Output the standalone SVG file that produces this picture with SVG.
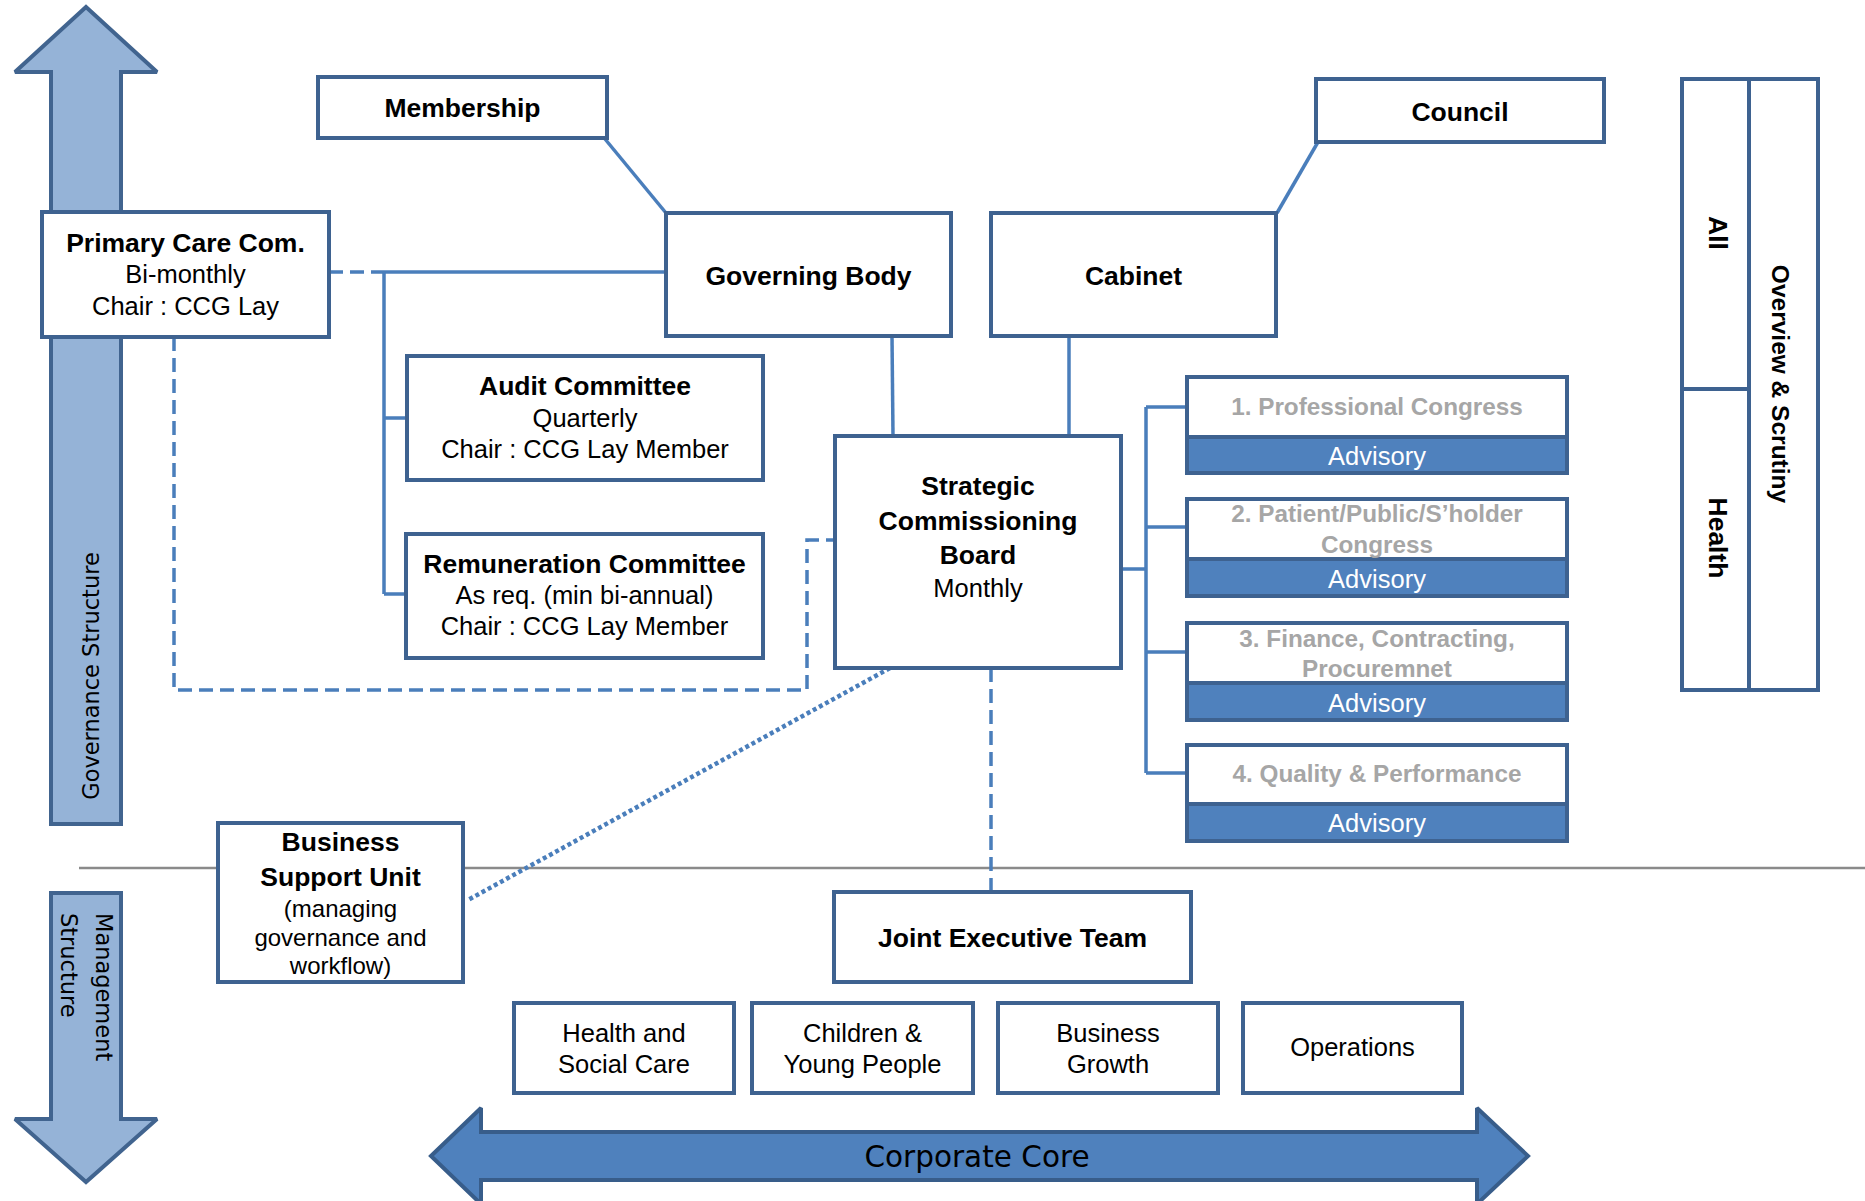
<svg xmlns="http://www.w3.org/2000/svg" width="1865" height="1201" viewBox="0 0 1865 1201">
<style>
.box{fill:#fff;stroke:#3e6290;stroke-width:4}
.adv{fill:#4f81bd;stroke:#3e6290;stroke-width:4}
.ln{fill:none;stroke:#4a7ebb;stroke-width:3.5}
.dash{stroke-dasharray:14 7}
.dot{stroke-dasharray:4 3;stroke-width:4.5}
.t{font-family:"Liberation Sans",Arial,sans-serif;font-size:25.5px;fill:#000;text-anchor:middle}
.b{font-weight:bold;font-size:26.5px}
.g{fill:#a6a6a6;font-weight:bold;font-size:24.3px}
.w{fill:#fff}
.v{font-family:"DejaVu Sans",Verdana,sans-serif;font-size:22.5px;fill:#000}
.sarrow{fill:#95b3d7;stroke:#41648f;stroke-width:4;stroke-miterlimit:2}
.carrow{fill:#4f81bd;stroke:#385d8a;stroke-width:4;stroke-miterlimit:2}
</style>

<g id="governance-arrow">
<polygon class="sarrow" points="86,7 157,72 121,72 121,824 51,824 51,72 15,72"/>
<text class="v" text-anchor="middle" transform="translate(99,676) rotate(-90)">Governance Structure</text>
</g>
<g id="management-arrow">
<polygon class="sarrow" points="51,893 121,893 121,1119 157,1119 86,1182 15,1119 51,1119"/>
<text class="v" font-size="21.5" transform="translate(96,913) rotate(90)">Management</text>
<text class="v" font-size="21.5" transform="translate(61,913) rotate(90)">Structure</text>
</g>
<g id="corporate-core">
<polygon class="carrow" points="431,1156 481,1108 481,1132 1477,1132 1477,1108 1528,1156 1477,1204 1477,1180 481,1180 481,1204"/>
<text class="v" text-anchor="middle" x="977" y="1167" style="font-size:29.5px">Corporate Core</text>
</g>

<line id="divider" x1="79" y1="868" x2="1865" y2="868" stroke="#8a8a8a" stroke-width="2.5"/>

<g id="connectors">
<line class="ln" x1="605" y1="139" x2="666" y2="213"/>
<line class="ln" x1="1318" y1="142" x2="1277" y2="213"/>
<line class="ln dash" x1="329" y1="272" x2="384" y2="272"/>
<line class="ln" x1="384" y1="272" x2="666" y2="272"/>
<path class="ln" d="M384,272 V594 M384,418 H407 M384,594 H406"/>
<line class="ln" x1="892" y1="336" x2="893" y2="436"/>
<line class="ln" x1="1069" y1="336" x2="1069" y2="436"/>
<path class="ln" d="M1121,569 H1146 M1146,407 V773 M1146,407 H1187 M1146,527 H1187 M1146,652 H1187 M1146,773 H1187"/>
<path class="ln dash" d="M174,337 V690 H807 V540 H835"/>
<line class="ln dot" x1="890" y1="668" x2="468" y2="900"/>
<line class="ln dash" x1="991" y1="668" x2="991" y2="892"/>
</g>

<g id="membership">
<rect class="box" x="318" y="77" width="289" height="61"/>
<text class="t b" x="462.5" y="117">Membership</text>
</g>
<g id="council">
<rect class="box" x="1316" y="79" width="288" height="63"/>
<text class="t b" x="1460" y="121">Council</text>
</g>
<g id="primary-care">
<rect class="box" x="42" y="212" width="287" height="125"/>
<text class="t b" x="185.5" y="252">Primary Care Com.</text>
<text class="t" x="185.5" y="283">Bi-monthly</text>
<text class="t" x="185.5" y="315">Chair : CCG Lay</text>
</g>
<g id="governing-body">
<rect class="box" x="666" y="213" width="285" height="123"/>
<text class="t b" x="808.5" y="285">Governing Body</text>
</g>
<g id="cabinet">
<rect class="box" x="991" y="213" width="285" height="123"/>
<text class="t b" x="1133.5" y="285">Cabinet</text>
</g>
<g id="audit">
<rect class="box" x="407" y="356" width="356" height="124"/>
<text class="t b" x="585" y="395">Audit Committee</text>
<text class="t" x="585" y="427">Quarterly</text>
<text class="t" x="585" y="458">Chair : CCG Lay Member</text>
</g>
<g id="remuneration">
<rect class="box" x="406" y="534" width="357" height="124"/>
<text class="t b" x="584.5" y="573">Remuneration Committee</text>
<text class="t" x="584.5" y="604">As req. (min bi-annual)</text>
<text class="t" x="584.5" y="635">Chair : CCG Lay Member</text>
</g>
<g id="scb">
<rect class="box" x="835" y="436" width="286" height="232"/>
<text class="t b" x="978" y="495">Strategic</text>
<text class="t b" x="978" y="530">Commissioning</text>
<text class="t b" x="978" y="564">Board</text>
<text class="t" x="978" y="597">Monthly</text>
</g>
<g id="congress-1">
<rect class="box" x="1187" y="377" width="380" height="60"/>
<rect class="adv" x="1187" y="437" width="380" height="36"/>
<text class="t g" x="1377" y="415">1. Professional Congress</text>
<text class="t w" x="1377" y="465">Advisory</text>
</g>
<g id="congress-2">
<rect class="box" x="1187" y="499" width="380" height="60"/>
<rect class="adv" x="1187" y="559" width="380" height="37"/>
<text class="t g" x="1377" y="522">2. Patient/Public/S’holder</text>
<text class="t g" x="1377" y="553">Congress</text>
<text class="t w" x="1377" y="588">Advisory</text>
</g>
<g id="congress-3">
<rect class="box" x="1187" y="623" width="380" height="60"/>
<rect class="adv" x="1187" y="683" width="380" height="37"/>
<text class="t g" x="1377" y="647">3. Finance, Contracting,</text>
<text class="t g" x="1377" y="677">Procuremnet</text>
<text class="t w" x="1377" y="712">Advisory</text>
</g>
<g id="congress-4">
<rect class="box" x="1187" y="745" width="380" height="59"/>
<rect class="adv" x="1187" y="804" width="380" height="37"/>
<text class="t g" x="1377" y="782">4. Quality &amp; Performance</text>
<text class="t w" x="1377" y="832">Advisory</text>
</g>
<g id="overview-scrutiny">
<rect class="box" x="1682" y="79" width="136" height="611"/>
<path d="M1749,79 V690 M1682,389 H1749" stroke="#3e6290" stroke-width="4" fill="none"/>
<text class="t b" font-size="25" transform="translate(1709,233) rotate(90)">All</text>
<text class="t b" font-size="25" transform="translate(1709,538) rotate(90)">Health</text>
<text class="t b" style="font-size:24.5px" transform="translate(1772,384) rotate(90)">Overview &amp; Scrutiny</text>
</g>
<g id="business-support">
<rect class="box" x="218" y="823" width="245" height="159"/>
<text class="t b" x="340.5" y="851">Business</text>
<text class="t b" x="340.5" y="886">Support Unit</text>
<text class="t" style="font-size:24px" x="340.5" y="917">(managing</text>
<text class="t" style="font-size:24px" x="340.5" y="946">governance and</text>
<text class="t" style="font-size:24px" x="340.5" y="974">workflow)</text>
</g>
<g id="jet">
<rect class="box" x="834" y="892" width="357" height="90"/>
<text class="t b" x="1012.5" y="947">Joint Executive Team</text>
</g>
<g id="health-social">
<rect class="box" x="514" y="1003" width="220" height="90"/>
<text class="t" x="624" y="1042">Health and</text>
<text class="t" x="624" y="1073">Social Care</text>
</g>
<g id="children">
<rect class="box" x="752" y="1003" width="221" height="90"/>
<text class="t" x="862.5" y="1042">Children &amp;</text>
<text class="t" x="862.5" y="1073">Young People</text>
</g>
<g id="business-growth">
<rect class="box" x="998" y="1003" width="220" height="90"/>
<text class="t" x="1108" y="1042">Business</text>
<text class="t" x="1108" y="1073">Growth</text>
</g>
<g id="operations">
<rect class="box" x="1243" y="1003" width="219" height="90"/>
<text class="t" x="1352.5" y="1056">Operations</text>
</g>
</svg>
